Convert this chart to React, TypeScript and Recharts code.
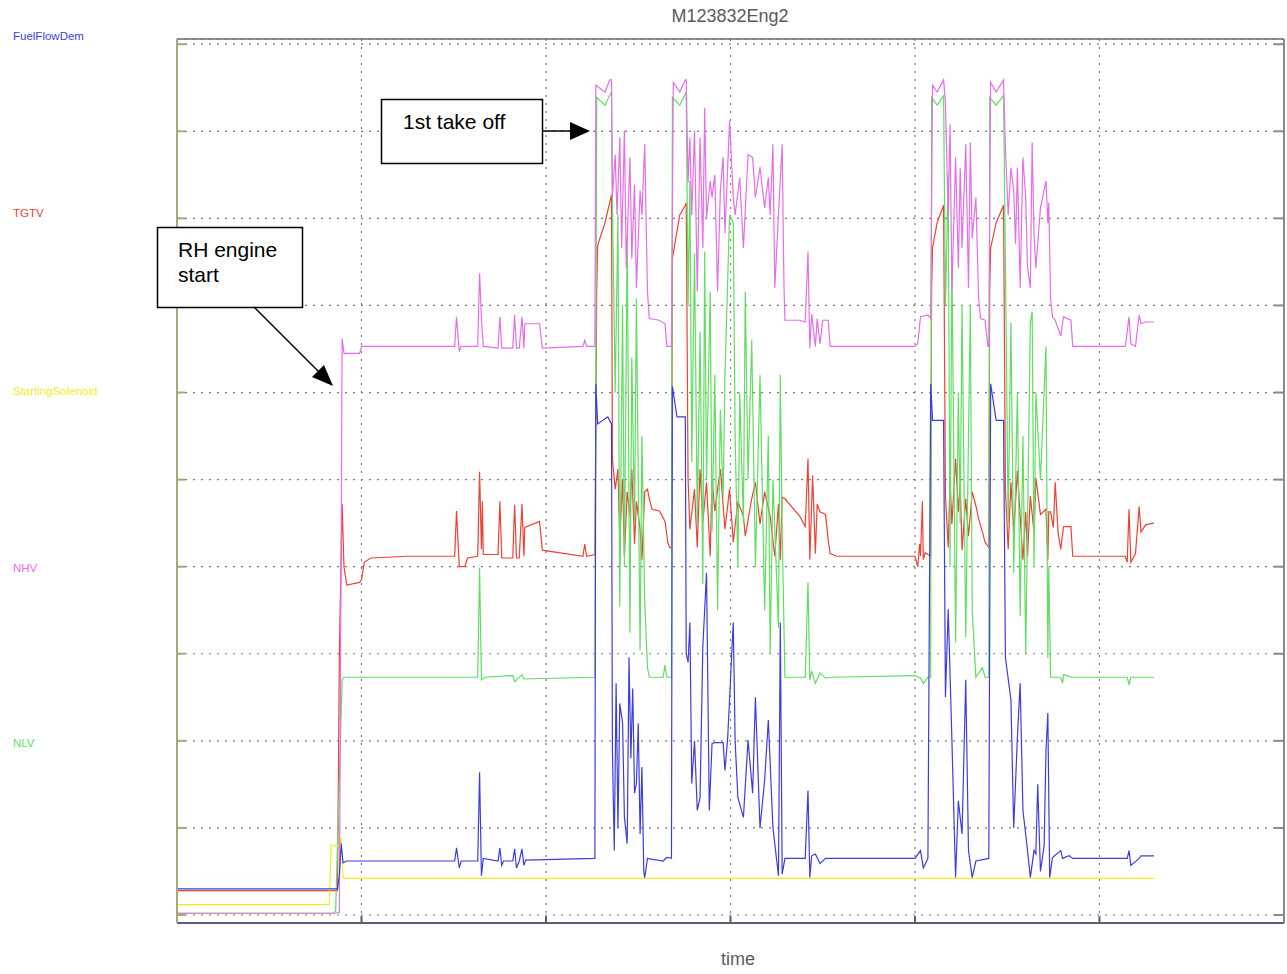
import { LineChart, Line, XAxis, YAxis, CartesianGrid } from 'recharts'

// time in minutes, values in % of channel range
const xTicks = [0, 20, 40, 60, 80, 100, 120]
const yTicks = [0, 10, 20, 30, 40, 50, 60, 70, 80, 90, 100]

const channelNames = ['FuelFlowDem', 'TGTV', 'StartingSolenoid', 'NHV', 'NLV']

const nhvTrace: [number, number][] = [
  [0, 0.2], [17.2, 0.2], [17.6, 0.3], [17.9, 66.2], [18.1, 64.5], [19.8, 64.5], [20.0, 65.3],
  [30.1, 65.3], [30.3, 68.7], [30.6, 64.7], [30.8, 65.3], [32.6, 65.3], [32.8, 73.7], [33.0, 68.5],
  [33.2, 65.3], [34.8, 65.1], [35.0, 68.7], [35.2, 65.1], [36.4, 65.1], [36.6, 68.9], [36.8, 65.1],
  [37.1, 65.1], [37.4, 68.7], [37.6, 65.1], [37.7, 67.9], [39.3, 67.9], [39.6, 65.1], [44.0, 65.3],
  [44.2, 66.0], [44.4, 65.3], [45.3, 65.3], [45.4, 95.3], [46.4, 94.5], [46.9, 95.9], [47.1, 95.9],
  [47.2, 82.4], [47.5, 87.3], [47.7, 80.4], [48.0, 89.3], [48.2, 76.6], [48.5, 90.1], [48.7, 74.3],
  [49.1, 87.0], [49.3, 75.4], [49.6, 83.9], [49.8, 72.0], [50.2, 83.2], [50.4, 80.4], [50.7, 88.5],
  [51.0, 71.6], [51.2, 68.5], [52.3, 68.3], [52.9, 67.9], [53.1, 65.3], [53.6, 65.3], [53.8, 95.6],
  [54.5, 94.5], [55.1, 95.9], [55.2, 95.9], [55.4, 84.1], [55.6, 89.3], [55.8, 80.4], [56.1, 90.1],
  [56.4, 71.6], [56.7, 89.3], [57.0, 76.6], [57.2, 92.7], [57.4, 80.0], [57.8, 84.3], [58.0, 82.4],
  [58.3, 85.0], [58.6, 71.6], [58.9, 83.2], [59.2, 87.0], [59.4, 78.3], [59.9, 91.2], [60.3, 82.4],
  [60.5, 80.4], [61.0, 84.7], [61.4, 76.6], [61.9, 87.3], [62.4, 87.0], [62.7, 82.4], [63.2, 85.9],
  [63.7, 81.2], [64.1, 84.7], [64.3, 80.4], [64.6, 88.5], [64.8, 72.0], [65.2, 80.4], [65.6, 88.5],
  [65.8, 72.0], [65.9, 68.3], [67.5, 68.3], [68.1, 68.1], [68.4, 76.2], [68.6, 65.1], [68.8, 69.0],
  [69.2, 65.3], [69.4, 68.5], [69.7, 65.6], [70.0, 68.3], [70.6, 68.3], [70.8, 65.3], [80.0, 65.3],
  [80.3, 65.6], [80.6, 68.7], [81.4, 68.9], [81.7, 68.5], [81.9, 95.3], [82.4, 94.5], [83.1, 95.9],
  [83.3, 93.3], [83.6, 80.4], [83.8, 90.8], [84.0, 71.6], [84.4, 87.0], [84.7, 74.3], [84.9, 85.8],
  [85.1, 76.6], [85.5, 88.5], [85.8, 72.0], [86.0, 88.7], [86.2, 77.7], [86.6, 82.4], [86.9, 70.8],
  [87.1, 68.5], [87.6, 68.3], [87.9, 65.3], [88.0, 65.3], [88.2, 95.6], [88.8, 94.5], [89.6, 95.9],
  [89.8, 88.1], [90.1, 80.4], [90.4, 85.8], [90.7, 83.2], [90.9, 77.1], [91.1, 85.8], [91.4, 72.0],
  [91.7, 87.0], [92.0, 82.4], [92.2, 74.3], [92.5, 72.0], [92.7, 88.7], [92.9, 78.3], [93.1, 74.3],
  [93.6, 81.2], [94.2, 84.3], [94.4, 79.5], [94.5, 81.8], [94.7, 70.8], [94.9, 68.7], [95.2, 68.3],
  [95.8, 66.5], [96.1, 68.7], [96.9, 68.3], [97.1, 65.3], [102.8, 65.3], [103.2, 68.7], [103.4, 65.6],
  [103.9, 65.3], [104.3, 68.9], [104.5, 67.9], [105.0, 68.1], [105.9, 68.1],
]

const tgtvTrace: [number, number][] = [
  [0, 2.8], [17.4, 2.8], [17.6, 30.0], [17.9, 47.2], [18.1, 40.0], [18.4, 37.9], [19.8, 38.2],
  [20.0, 38.5], [20.3, 40.5], [21.0, 41.0], [25.0, 41.2], [30.1, 41.2], [30.3, 46.4], [30.6, 40.0],
  [31.2, 40.0], [31.5, 41.0], [32.6, 41.2], [32.8, 50.9], [33.0, 42.0], [33.1, 47.5], [33.2, 41.4],
  [34.8, 41.4], [35.0, 47.5], [35.2, 41.0], [36.4, 41.0], [36.6, 47.1], [36.8, 41.0], [37.1, 41.0],
  [37.4, 47.2], [37.6, 41.2], [37.7, 44.5], [39.3, 45.2], [39.6, 41.9], [44.0, 41.2], [44.2, 42.6],
  [44.4, 41.2], [45.3, 41.4], [45.5, 72.0], [45.6, 76.9], [46.4, 79.5], [46.9, 81.8], [47.1, 82.7],
  [47.2, 52.4], [47.5, 48.9], [47.8, 51.2], [48.0, 43.0], [48.3, 50.1], [48.5, 41.2], [48.8, 48.6],
  [49.1, 45.8], [49.3, 51.2], [49.6, 42.6], [49.8, 47.5], [50.2, 44.3], [50.4, 40.8], [50.7, 48.6],
  [51.0, 48.9], [51.2, 47.8], [51.5, 46.6], [52.3, 46.4], [52.9, 45.2], [53.2, 42.8], [53.4, 42.2],
  [53.6, 42.2], [53.7, 75.4], [54.5, 80.4], [55.1, 81.5], [55.2, 81.8], [55.4, 50.1], [55.6, 44.3],
  [56.1, 48.9], [56.4, 42.2], [56.7, 51.2], [57.0, 45.2], [57.4, 49.7], [57.8, 41.2], [58.0, 50.1],
  [58.3, 46.4], [58.9, 51.2], [59.4, 44.3], [59.9, 48.9], [60.3, 42.8], [60.8, 47.5], [61.4, 45.8],
  [61.6, 43.5], [62.3, 47.8], [62.7, 49.7], [63.2, 44.9], [63.7, 48.6], [64.3, 45.8], [64.8, 41.2],
  [65.2, 47.2], [65.4, 40.8], [65.6, 48.0], [65.9, 47.8], [67.5, 45.8], [68.1, 44.6], [68.4, 52.4],
  [68.6, 40.8], [68.9, 50.5], [69.2, 41.5], [69.4, 47.2], [69.7, 46.3], [70.3, 46.0], [70.6, 43.0],
  [70.8, 41.5], [71.5, 41.2], [80.0, 41.2], [80.3, 40.0], [80.5, 42.6], [80.6, 41.2], [80.8, 47.5],
  [80.9, 40.8], [81.1, 41.6], [81.7, 41.2], [81.8, 72.0], [81.9, 76.6], [82.4, 79.5], [83.1, 81.5],
  [83.3, 48.1], [83.6, 42.2], [83.8, 50.1], [84.0, 44.9], [84.4, 52.4], [84.7, 46.3], [84.9, 49.7],
  [85.1, 41.9], [85.5, 47.8], [85.8, 43.5], [86.2, 48.6], [86.6, 47.0], [86.9, 45.5], [87.3, 44.0],
  [87.6, 42.8], [88.0, 42.2], [88.1, 72.0], [88.2, 76.6], [88.8, 79.5], [89.6, 81.5], [89.8, 49.0],
  [90.1, 42.0], [90.4, 49.7], [90.7, 44.0], [91.1, 51.0], [91.4, 45.8], [91.7, 40.8], [92.0, 46.3],
  [92.2, 41.2], [92.5, 48.1], [92.9, 44.0], [93.1, 50.2], [93.6, 46.0], [94.2, 46.6], [94.4, 40.8],
  [94.5, 46.3], [94.7, 46.3], [95.0, 44.5], [95.2, 49.7], [95.5, 44.0], [95.8, 42.0], [96.1, 44.6],
  [96.9, 44.6], [97.1, 41.2], [102.8, 41.2], [103.0, 40.5], [103.2, 46.6], [103.4, 40.5], [103.9, 41.5],
  [104.3, 46.9], [104.5, 44.0], [105.0, 44.8], [105.9, 45.0],
]

const nlvTrace: [number, number][] = [
  [0, 0.2], [17.0, 0.2], [17.2, 0.5], [17.9, 27.0], [18.1, 27.3], [32.6, 27.3], [32.8, 39.9],
  [33.0, 27.0], [33.4, 27.3], [36.4, 27.5], [36.6, 26.8], [37.4, 27.6], [37.6, 27.1], [45.3, 27.3],
  [45.5, 93.9], [46.4, 93.0], [46.9, 94.1], [47.1, 94.5], [47.2, 82.0], [47.5, 60.0], [47.8, 80.4],
  [48.0, 35.4], [48.3, 70.0], [48.5, 40.0], [48.8, 78.0], [49.1, 32.4], [49.3, 64.0], [49.6, 45.0],
  [49.8, 70.8], [50.2, 30.4], [50.4, 55.0], [50.7, 36.0], [51.0, 28.4], [51.2, 27.3], [52.7, 27.3],
  [52.9, 28.7], [53.1, 27.3], [53.6, 27.3], [53.7, 93.9], [54.5, 93.0], [55.1, 94.3], [55.2, 94.5],
  [55.4, 70.0], [55.6, 84.3], [55.8, 52.0], [56.1, 76.0], [56.4, 45.0], [56.7, 67.0], [57.0, 38.0],
  [57.2, 76.2], [57.4, 50.0], [57.8, 71.6], [58.0, 44.0], [58.3, 62.0], [58.6, 35.0], [58.9, 58.0],
  [59.2, 48.0], [59.4, 62.0], [59.9, 80.4], [60.3, 79.5], [60.5, 55.0], [60.8, 40.0], [61.0, 60.0],
  [61.4, 45.0], [61.6, 71.6], [61.9, 50.0], [62.3, 66.0], [62.7, 40.0], [63.2, 62.0], [63.7, 35.0],
  [64.1, 55.0], [64.3, 30.0], [64.6, 50.0], [65.2, 33.0], [65.4, 62.0], [65.6, 44.0], [65.9, 27.3],
  [68.1, 27.3], [68.4, 38.2], [68.6, 27.0], [68.8, 28.0], [69.2, 26.6], [69.7, 27.8], [70.3, 27.2],
  [71.0, 27.3], [80.0, 27.5], [80.6, 27.2], [80.9, 26.6], [81.4, 27.3], [81.7, 27.3], [81.8, 93.9],
  [82.4, 93.0], [83.1, 94.1], [83.3, 70.0], [83.6, 85.0], [83.8, 40.0], [84.0, 75.4], [84.4, 31.3],
  [84.7, 60.0], [84.9, 45.0], [85.1, 70.0], [85.5, 31.9], [85.8, 55.0], [86.0, 70.0], [86.2, 35.0],
  [86.6, 27.3], [87.3, 28.4], [87.6, 27.3], [88.0, 27.3], [88.1, 93.9], [88.8, 93.0], [89.6, 94.1],
  [89.8, 75.0], [90.1, 45.0], [90.4, 68.0], [90.7, 39.3], [91.1, 60.0], [91.4, 34.3], [91.7, 55.0],
  [92.0, 30.1], [92.2, 45.0], [92.5, 68.0], [92.7, 69.3], [92.9, 40.0], [93.1, 60.0], [93.6, 50.0],
  [94.2, 65.3], [94.4, 29.5], [94.5, 40.0], [94.7, 27.3], [95.8, 27.3], [96.0, 26.6], [96.1, 27.6],
  [97.0, 27.3], [103.0, 27.3], [103.2, 26.5], [103.4, 27.3], [105.9, 27.3],
]

const fuelFlowTrace: [number, number][] = [
  [0, 3.0], [17.4, 3.0], [17.6, 4.5], [17.8, 8.2], [18.0, 6.0], [18.4, 6.2], [30.1, 6.2], [30.3, 7.7],
  [30.6, 5.4], [30.8, 6.2], [32.6, 6.2], [32.8, 16.4], [33.0, 4.5], [33.2, 6.5], [34.8, 6.2],
  [35.0, 7.7], [35.2, 5.7], [35.4, 6.2], [36.4, 6.2], [36.6, 7.6], [36.8, 5.4], [37.1, 6.2],
  [37.4, 7.6], [37.6, 5.7], [37.8, 6.3], [45.3, 6.5], [45.4, 61.0], [45.6, 56.4], [46.4, 57.0],
  [46.7, 57.2], [47.1, 56.4], [47.2, 18.9], [47.4, 7.4], [47.6, 26.6], [47.8, 10.0], [48.0, 24.3],
  [48.3, 22.0], [48.5, 11.2], [48.8, 8.2], [49.0, 29.6], [49.2, 18.0], [49.4, 26.0], [49.6, 14.0],
  [49.8, 15.1], [50.0, 22.0], [50.2, 9.3], [50.4, 17.0], [50.6, 5.0], [50.7, 4.3], [51.0, 6.5],
  [52.7, 6.2], [53.1, 6.6], [53.6, 6.5], [53.7, 60.7], [54.2, 57.2], [55.1, 57.2], [55.2, 30.0],
  [55.4, 29.0], [55.6, 33.6], [55.8, 15.1], [56.1, 20.0], [56.4, 12.0], [56.7, 13.5], [57.0, 30.8],
  [57.4, 39.3], [57.7, 12.0], [58.0, 19.7], [58.3, 19.8], [59.2, 19.8], [59.4, 16.6], [59.7, 20.4],
  [60.3, 33.6], [60.5, 20.0], [60.8, 13.5], [61.4, 11.2], [61.9, 20.1], [62.4, 14.0], [62.7, 25.0],
  [63.2, 10.0], [63.7, 15.5], [64.1, 22.4], [64.6, 10.0], [65.2, 4.5], [65.4, 33.6], [65.6, 4.7],
  [65.9, 6.5], [68.1, 6.5], [68.4, 14.3], [68.6, 4.3], [68.8, 6.8], [69.2, 7.0], [69.7, 5.9],
  [70.3, 6.5], [80.0, 6.5], [80.6, 7.4], [80.9, 5.4], [81.4, 6.5], [81.7, 61.0], [81.9, 56.8],
  [83.1, 56.8], [83.3, 25.0], [83.6, 35.1], [84.0, 20.1], [84.4, 4.3], [84.7, 13.1], [85.1, 9.3],
  [85.5, 27.0], [85.8, 7.4], [86.2, 4.3], [86.6, 6.2], [88.0, 6.5], [88.2, 61.0], [88.8, 56.8],
  [89.6, 56.8], [89.8, 29.6], [90.4, 24.7], [90.7, 10.0], [91.1, 20.4], [91.4, 26.6], [91.7, 12.0],
  [92.2, 7.4], [92.5, 4.3], [92.9, 7.4], [93.1, 7.0], [93.3, 15.0], [93.6, 5.0], [94.0, 8.0],
  [94.2, 18.9], [94.4, 23.2], [94.6, 4.3], [94.9, 6.6], [95.8, 7.4], [96.0, 6.5], [96.7, 6.8],
  [97.1, 6.5], [103.0, 6.5], [103.2, 7.4], [103.4, 5.7], [104.3, 6.5], [104.5, 6.8], [105.9, 6.8],
]

const solenoidTrace: [number, number][] = [
  [0, 1.2], [16.5, 1.2], [16.7, 8.0], [17.6, 8.0], [17.8, 8.9], [18.0, 4.2], [105.9, 4.2],
]

const toRows = (trace: [number, number][]) => trace.map(([t, v]) => ({ t, v }))

const channelColors: Record<string, string> = {
  FuelFlowDem: '#3d3ddc',
  TGTV: '#ea4236',
  StartingSolenoid: '#eeee22',
  NHV: '#e46ee8',
  NLV: '#62dc62',
}

const labelTops = [30, 207, 385, 562, 737]

// tick labels are not shown, only the short tick marks
const NoLabel = () => <g />

export default function App() {
  const series = [
    { name: 'TGTV', data: toRows(tgtvTrace) },
    { name: 'NLV', data: toRows(nlvTrace) },
    { name: 'StartingSolenoid', data: toRows(solenoidTrace) },
    { name: 'NHV', data: toRows(nhvTrace) },
    { name: 'FuelFlowDem', data: toRows(fuelFlowTrace) },
  ]

  return (
    <div
      style={{
        position: 'absolute',
        left: 0,
        top: 0,
        width: 1287,
        height: 974,
        background: '#fff',
        fontFamily: 'Arial, "Liberation Sans", sans-serif',
      }}
    >
      <div
        style={{
          position: 'absolute',
          left: 0,
          width: 1460,
          top: 6,
          textAlign: 'center',
          fontSize: 18,
          color: '#5a5a5a',
        }}
      >
        M123832Eng2
      </div>
      <div
        style={{
          position: 'absolute',
          left: 0,
          width: 1476,
          top: 949,
          textAlign: 'center',
          fontSize: 18,
          color: '#5a5a5a',
        }}
      >
        time
      </div>
      {channelNames.map((name, i) => (
        <div
          key={name}
          style={{
            position: 'absolute',
            left: 13,
            top: labelTops[i],
            fontSize: 11.5,
            color: channelColors[name],
          }}
        >
          {name}
        </div>
      ))}

      <div style={{ position: 'absolute', left: 0, top: 0 }}>
        <LineChart
          width={1287}
          height={974}
          margin={{ top: 39, right: 3, bottom: 51, left: 177 }}
        >
          <CartesianGrid stroke="#7a7a7a" strokeDasharray="2 6" strokeWidth={1.2} />
          <XAxis
            dataKey="t"
            type="number"
            domain={[0, 120]}
            ticks={xTicks}
            interval={0}
            allowDataOverflow
            height={1}
            mirror
            tick={NoLabel}
            tickSize={7}
            stroke="#5c5c78"
            strokeWidth={2}
          />
          <XAxis
            xAxisId="top"
            orientation="top"
            type="number"
            domain={[0, 120]}
            ticks={xTicks}
            interval={0}
            allowDataOverflow
            height={1}
            mirror
            tick={NoLabel}
            tickSize={7}
            stroke="#6a6a6a"
            strokeWidth={1.5}
          />
          <YAxis
            type="number"
            domain={[-0.92, 100.6]}
            ticks={yTicks}
            interval={0}
            allowDataOverflow
            width={1}
            mirror
            tick={NoLabel}
            tickSize={8}
            stroke="#a9a978"
            strokeWidth={2}
          />
          <YAxis
            yAxisId="right"
            orientation="right"
            type="number"
            domain={[-0.92, 100.6]}
            ticks={yTicks}
            interval={0}
            allowDataOverflow
            width={1}
            mirror
            tick={NoLabel}
            tickSize={10}
            stroke="#8a8a8a"
            strokeWidth={2}
          />
          {series.map((s) => (
            <Line
              key={s.name}
              data={s.data}
              dataKey="v"
              name={s.name}
              type="linear"
              stroke={channelColors[s.name]}
              strokeWidth={1.2}
              dot={false}
              isAnimationActive={false}
            />
          ))}
        </LineChart>
      </div>

      <svg
        width={1287}
        height={974}
        style={{ position: 'absolute', left: 0, top: 0, pointerEvents: 'none' }}
      >
        <rect x={381.5} y={99.5} width={161} height={64} fill="#fff" stroke="#000" strokeWidth={1.5} />
        <text x={403} y={129} fontSize={21} fontFamily="Arial, 'Liberation Sans', sans-serif" fill="#000">
          1st take off
        </text>
        <line x1={542} y1={131} x2={574} y2={131} stroke="#000" strokeWidth={1.5} />
        <polygon points="570,122 590,131 570,140" fill="#000" />

        <rect x={157.5} y={227.5} width={145} height={80} fill="#fff" stroke="#000" strokeWidth={1.5} />
        <text x={178} y={257} fontSize={21} fontFamily="Arial, 'Liberation Sans', sans-serif" fill="#000">
          RH engine
        </text>
        <text x={178} y={282} fontSize={21} fontFamily="Arial, 'Liberation Sans', sans-serif" fill="#000">
          start
        </text>
        <line x1={254} y1={307} x2={322} y2={375} stroke="#000" strokeWidth={1.5} />
        <polygon points="333,386 312,377 324,365" fill="#000" />
      </svg>
    </div>
  )
}
